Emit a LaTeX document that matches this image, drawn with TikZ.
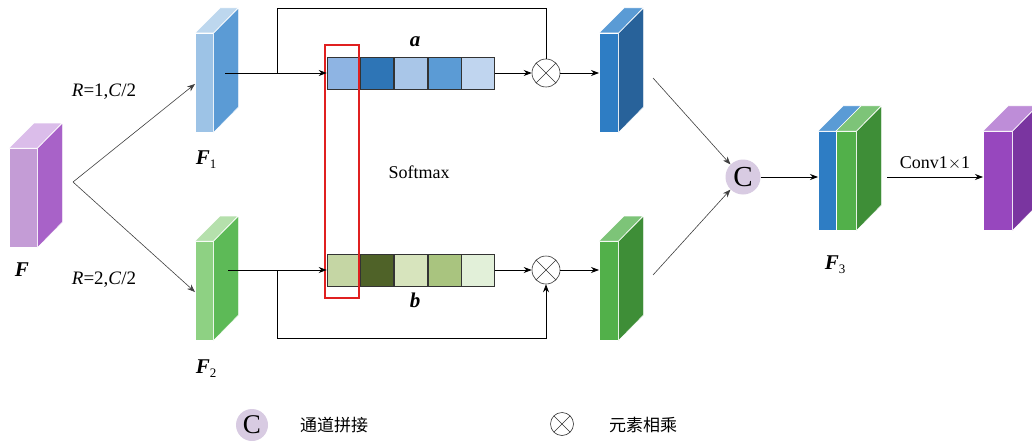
\documentclass[tikz,border=0pt]{standalone}
\usepackage{fontspec}
\setmainfont{Liberation Serif}
\newfontfamily\cjk{Noto Sans CJK SC}
\usetikzlibrary{arrows.meta}

% fills of the cuboid faces
\definecolor{pFront}{HTML}{C49CD6}
\definecolor{pSide}{HTML}{A862C8}
\definecolor{pTop}{HTML}{DBBDEA}
\definecolor{lbFront}{HTML}{9DC3E6}
\definecolor{lbSide}{HTML}{5B9BD5}
\definecolor{lbTop}{HTML}{BDD7EE}
\definecolor{lgFront}{HTML}{8ED183}
\definecolor{lgSide}{HTML}{5DBA57}
\definecolor{lgTop}{HTML}{B5E0AC}
\definecolor{bFront}{HTML}{2E7DC4}
\definecolor{bSide}{HTML}{28629A}
\definecolor{bTop}{HTML}{5A9BD5}
\definecolor{gFront}{HTML}{52B04A}
\definecolor{gSide}{HTML}{3E8E37}
\definecolor{gTop}{HTML}{7DC478}
\definecolor{oFront}{HTML}{9747BE}
\definecolor{oSide}{HTML}{7A35A0}
\definecolor{oTop}{HTML}{BE8DD8}
% attention vector cells
\definecolor{a1c}{HTML}{8EB4E3}
\definecolor{a2c}{HTML}{2E75B6}
\definecolor{a3c}{HTML}{A9C6E8}
\definecolor{a4c}{HTML}{5B9BD5}
\definecolor{a5c}{HTML}{C0D5EF}
\definecolor{b1c}{HTML}{C5D6A4}
\definecolor{b2c}{HTML}{4F6228}
\definecolor{b3c}{HTML}{D7E4BD}
\definecolor{b4c}{HTML}{A9C47F}
\definecolor{b5c}{HTML}{E2F0D9}
\definecolor{catfill}{HTML}{D8CBE2}
\definecolor{selred}{HTML}{E02020}

\tikzset{
  face/.style={draw=white, line width=0.5pt, inner sep=0pt, rectangle},
  facedge/.style={draw=white, line width=0.5pt},
  cell/.style={draw=black!80, line width=0.6pt, minimum width=33pt, minimum height=32pt, inner sep=0pt},
  wire/.style={line width=0.75pt, black},
  arr/.style={wire, -{Stealth[length=8pt,width=6pt]}},
  thin arr/.style={line width=0.6pt, black!75, -{Stealth[length=8pt,width=6pt]}},
  otimes/.style={circle, draw=black!80, line width=0.6pt, minimum size=28pt, inner sep=0pt, fill=white,
    path picture={\draw[black!80, line width=0.6pt]
      (path picture bounding box.north west) -- (path picture bounding box.south east)
      (path picture bounding box.north east) -- (path picture bounding box.south west);}},
  concat/.style={circle, fill=catfill, minimum size=35pt, inner sep=0pt, font=\fontsize{29}{29}\selectfont},
  lbl/.style={font=\fontsize{19}{19}\selectfont},
  flbl/.style={font=\fontsize{21}{21}\selectfont\bfseries\itshape},
}

% cuboid: name, x, y (top-left of the front face), width, height, front, side, top
\newcommand\cuboid[8]{%
  \node[face, fill=#6, anchor=north west, minimum width=#4pt, minimum height=#5pt] (#1) at (#2,#3) {};
  \filldraw[facedge, fill=#7] (#1.north east) -- ++(25,-25) -- ++(0,#5) -- (#1.south east) -- cycle;
  \filldraw[facedge, fill=#8] (#1.north west) -- ++(25,-25) -- ++(#4,0) -- (#1.north east) -- cycle;
}
\newcommand\fsub[1]{\raisebox{-4pt}{\fontsize{13}{13}\selectfont\mdseries\upshape #1}}

\begin{document}
\begin{tikzpicture}[x=1pt, y=-1pt]
\clip (0,0) rectangle (1032,441);
\fill[white] (0,0) rectangle (1032,441);

% input feature map and the two branches
\cuboid{F}{9}{148}{28}{99}{pFront}{pSide}{pTop}
\node[flbl] (Flab) at (22,270) {F};
\coordinate (split) at (73,182);
\cuboid{F1}{195}{33}{18}{99}{lbFront}{lbSide}{lbTop}
\cuboid{F2}{195}{241}{18}{99}{lgFront}{lgSide}{lgTop}
\node[flbl] (F1lab) at (206,160) {F\fsub{1}};
\node[flbl] (F2lab) at (206,369) {F\fsub{2}};
\draw[thin arr] (split) -- (F1.west |- 0,84);
\draw[thin arr] (split) -- (F2.west |- 0,292);
\node[lbl] (r1) at (104,92) {\textit{R}=1,\textit{C}/2};
\node[lbl] (r2) at (104,280) {\textit{R}=2,\textit{C}/2};

% attention vectors
\node[cell, fill=a1c] (a1) at (343.5,73) {};
\node[cell, fill=a2c, anchor=west] (a2) at (a1.east) {};
\node[cell, fill=a3c, anchor=west] (a3) at (a2.east) {};
\node[cell, fill=a4c, anchor=west] (a4) at (a3.east) {};
\node[cell, fill=a5c, anchor=west] (a5) at (a4.east) {};
\node[cell, fill=b1c] (b1) at (343.5,270) {};
\node[cell, fill=b2c, anchor=west] (b2) at (b1.east) {};
\node[cell, fill=b3c, anchor=west] (b3) at (b2.east) {};
\node[cell, fill=b4c, anchor=west] (b4) at (b3.east) {};
\node[cell, fill=b5c, anchor=west] (b5) at (b4.east) {};
\node[flbl] (alab) at (415,42) {a};
\node[flbl] (blab) at (415,300) {b};
\node[font=\fontsize{18}{18}\selectfont] (sm) at (419,172) {Softmax};
\node[draw=selred, line width=2.8pt, minimum width=34pt, minimum height=253pt, inner sep=0pt] (sel) at (342,171.5) {};

% element-wise products
\node[otimes] (ma) at (546,73) {};
\node[otimes] (mb) at (546,270) {};
\coordinate (f1out) at (225,73);
\coordinate (f2out) at (228,270);
\draw[arr] (f1out) -- (a1.west);
\draw[arr] (f2out) -- (b1.west);
\draw[wire] (277,73) -- (277,8) -- (ma.north |- 0,8) -- (ma.north);
\draw[arr] (277,270) -- (277,338) -- (mb.south |- 0,338) -- (mb.south);
\draw[arr] (a5.east) -- (ma.west);
\draw[arr] (b5.east) -- (mb.west);

% weighted feature maps
\cuboid{Ba}{599}{33}{19}{99}{bFront}{bSide}{bTop}
\cuboid{Gb}{599}{241}{19}{99}{gFront}{gSide}{gTop}
\draw[arr] (ma.east) -- (Ba.west |- ma);
\draw[arr] (mb.east) -- (Gb.west |- mb);

% concatenation
\node[concat] (cat) at (743,177) {C};
\coordinate (baout) at (653,78);
\coordinate (gbout) at (653,275);
\draw[thin arr] (baout) -- (cat.north west);
\draw[thin arr] (gbout) -- (cat.south west);

% concatenated map F3
\node[face, fill=bFront, anchor=north west, minimum width=18pt, minimum height=99pt] (F3) at (818,131) {};
\node[face, fill=gFront, anchor=north west, minimum width=20pt, minimum height=99pt] (F3g) at (836,131) {};
\filldraw[facedge, fill=gSide] (F3g.north east) -- ++(25,-25) -- ++(0,99) -- (F3g.south east) -- cycle;
\filldraw[facedge, fill=bTop] (F3.north west) -- ++(25,-25) -- ++(18,0) -- (F3.north east) -- cycle;
\filldraw[facedge, fill=gTop] (F3g.north west) -- ++(25,-25) -- ++(20,0) -- (F3g.north east) -- cycle;
\node[flbl] (F3lab) at (835,265) {F\fsub{3}};
\draw[arr] (cat.east) -- (F3.west |- cat);

% 1x1 convolution to the output
\cuboid{Out}{983}{131}{29}{99}{oFront}{oSide}{oTop}
\coordinate (f3out) at (887,177);
\draw[arr] (f3out) -- node[above=3pt, font=\fontsize{18}{18}\selectfont] (conv) {Conv1$\times$1} (Out.west |- f3out);

% legend
\node[concat, minimum size=32pt, font=\fontsize{27}{27}\selectfont] (legc) at (252,425) {C};
\node[font=\fontsize{17}{17}\selectfont\cjk] (legct) at (334,425) {通道拼接};
\node[otimes, minimum size=23pt] (legm) at (562,424) {};
\node[font=\fontsize{17}{17}\selectfont\cjk] (legmt) at (643,425) {元素相乘};
\end{tikzpicture}
\end{document}
